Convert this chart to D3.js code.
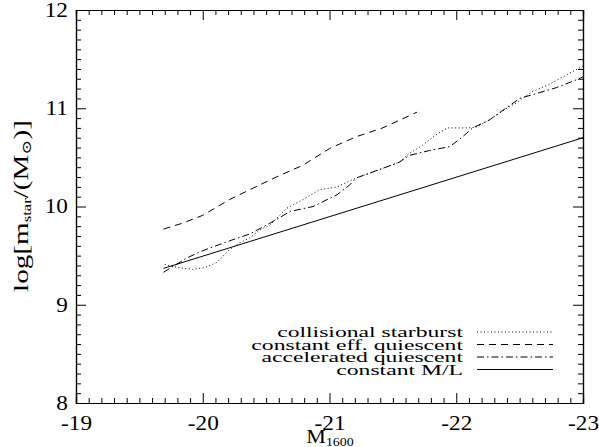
<!DOCTYPE html>
<html>
<head>
<meta charset="utf-8">
<script src="https://cdn.jsdelivr.net/npm/d3@7"></script>
<style>
  body { margin: 0; background: #fff; }
  svg { display: block; }
  text { font-family: "Liberation Serif", "DejaVu Serif", serif; fill: #000; }
</style>
</head>
<body>
<svg id="chart" width="599" height="447"></svg>
<script>
// axis ticks
const xMajor = [-19, -20, -21, -22, -23];
const yMajor = [8, 9, 10, 11, 12];

// collisional starburst (dotted)
const burstX = [-19.70, -19.80, -19.92, -20.02, -20.11, -20.21, -20.29, -20.37, -20.45, -20.53,
                -20.66, -20.79, -20.92, -21.06, -21.21, -21.32, -21.55, -21.63, -21.73, -21.84,
                -21.93, -22.10, -22.16, -22.26, -22.40, -22.48, -22.60, -22.73, -22.87, -23.00];
const burstY = [9.41, 9.38, 9.36, 9.38, 9.43, 9.56, 9.63, 9.68, 9.76, 9.81,
                9.98, 10.07, 10.17, 10.20, 10.29, 10.34, 10.45, 10.54, 10.62, 10.73,
                10.80, 10.80, 10.81, 10.88, 11.00, 11.06, 11.17, 11.24, 11.34, 11.43];

// constant efficiency quiescent (dashed)
const constEffX = [-19.69, -19.84, -20.00, -20.21, -20.37, -20.58, -20.79, -21.00, -21.21, -21.42, -21.69];
const constEffY = [9.77, 9.83, 9.91, 10.07, 10.17, 10.30, 10.42, 10.59, 10.71, 10.80, 10.96];

// accelerated quiescent (dash-dot)
const accelX = [-19.69, -19.88, -20.00, -20.21, -20.37, -20.53, -20.69, -20.87, -21.06, -21.16,
                -21.21, -21.55, -21.63, -21.79, -21.95, -22.05, -22.13, -22.26, -22.50, -22.66,
                -22.79, -22.95, -23.00];
const accelY = [9.33, 9.48, 9.55, 9.65, 9.72, 9.83, 9.95, 10.00, 10.12, 10.22,
                10.29, 10.45, 10.52, 10.57, 10.61, 10.71, 10.80, 10.88, 11.10, 11.16,
                11.21, 11.29, 11.32];

// constant M/L (solid)
const constMLX = [-19.69, -23.00];
const constMLY = [9.37, 10.70];

const legendLabels = ["collisional starburst", "constant eff. quiescent",
                      "accelerated quiescent", "constant M/L"];

const svg = d3.select("#chart");
const mLeft = 76, mRight = 583, mTop = 10, mBottom = 403;

const x = d3.scaleLinear().domain([-19, -23]).range([mLeft, mRight]);
const y = d3.scaleLinear().domain([8, 12]).range([mBottom, mTop]);

// minor ticks every 0.1
const xMinor = d3.range(1, 40).map(i => -19 - i / 10).filter((v, i) => (i + 1) % 10 !== 0);
const yMinor = d3.range(1, 40).map(i => 8 + i / 10).filter((v, i) => (i + 1) % 10 !== 0);

// the IDL font is wider than Times: stretch horizontally to a measured width
function stretchFor(text, size, width) {
  const t = svg.append("text").attr("font-size", size).text(text);
  const w = t.node().getComputedTextLength();
  t.remove();
  return width / w;
}
const sxTick = stretchFor("-19", 20, 31);
const sxLeg = stretchFor(legendLabels[0], 15, 186);

const fmt = d => String(d);

function styleAxis(g) {
  g.attr("font-family", null);
  g.select(".domain").attr("stroke", "#000").attr("stroke-width", 1.2);
  g.selectAll(".tick line").attr("stroke", "#000").attr("stroke-width", 1);
}

// bottom
svg.append("g").attr("transform", `translate(0,${mBottom})`)
  .call(d3.axisBottom(x).tickValues(xMinor).tickSize(-5).tickFormat(""))
  .call(styleAxis);
const xb = svg.append("g").attr("transform", `translate(0,${mBottom})`)
  .call(d3.axisBottom(x).tickValues(xMajor).tickSize(-10).tickPadding(13).tickFormat(fmt))
  .call(styleAxis);
xb.selectAll("text").attr("font-size", 20).attr("transform", `scale(${sxTick},1)`);

// top
svg.append("g").attr("transform", `translate(0,${mTop})`)
  .call(d3.axisTop(x).tickValues(xMinor).tickSize(-5).tickFormat(""))
  .call(styleAxis);
svg.append("g").attr("transform", `translate(0,${mTop})`)
  .call(d3.axisTop(x).tickValues(xMajor).tickSize(-10).tickFormat(""))
  .call(styleAxis);

// left
svg.append("g").attr("transform", `translate(${mLeft},0)`)
  .call(d3.axisLeft(y).tickValues(yMinor).tickSize(-5).tickFormat(""))
  .call(styleAxis);
const yl = svg.append("g").attr("transform", `translate(${mLeft},0)`)
  .call(d3.axisLeft(y).tickValues(yMajor).tickSize(-10).tickPadding(7).tickFormat(fmt))
  .call(styleAxis);
yl.selectAll("text").attr("font-size", 20).attr("transform", `scale(${sxTick},1)`);

// right
svg.append("g").attr("transform", `translate(${mRight},0)`)
  .call(d3.axisRight(y).tickValues(yMinor).tickSize(-5).tickFormat(""))
  .call(styleAxis);
svg.append("g").attr("transform", `translate(${mRight},0)`)
  .call(d3.axisRight(y).tickValues(yMajor).tickSize(-10).tickFormat(""))
  .call(styleAxis);

// axis titles
const xt = svg.append("text")
  .attr("transform", `translate(330,443) scale(${sxTick},1)`)
  .attr("text-anchor", "middle").attr("font-size", 19);
xt.append("tspan").text("M");
xt.append("tspan").attr("font-size", 12).attr("dy", 3).text("1600");

const yt = svg.append("text")
  .attr("text-anchor", "middle").attr("font-size", 21);
yt.append("tspan").text("log[m");
yt.append("tspan").attr("font-size", 12).attr("dy", 3).text("star");
yt.append("tspan").attr("dy", -3).text("/(M");
yt.append("tspan").attr("font-size", 13).attr("dy", 3).text("\u2299");
yt.append("tspan").attr("dy", -3).text(")]");
const sxY = 172 / yt.node().getComputedTextLength();
yt.attr("transform", `translate(28,206) rotate(-90) scale(${sxY},1)`);

// curves
const series = [
  {xs: burstX, ys: burstY, dash: "1,2.5"},
  {xs: constEffX, ys: constEffY, dash: "7,5"},
  {xs: accelX, ys: accelY, dash: "7,3,1.5,3"},
  {xs: constMLX, ys: constMLY, dash: null}
];

const line = d3.line().x(d => x(d[0])).y(d => y(d[1]));

const plot = svg.append("g");
series.forEach(s => {
  plot.append("path")
    .datum(s.xs.map((v, i) => [v, s.ys[i]]))
    .attr("d", line)
    .attr("fill", "none")
    .attr("stroke", "#000")
    .attr("stroke-width", 1)
    .attr("stroke-dasharray", s.dash);
});

// legend
const legend = svg.append("g");
legendLabels.forEach((lab, i) => {
  const ly = 332 + i * 12.5;
  legend.append("text")
    .attr("transform", `translate(463,${ly + 5}) scale(${sxLeg},1)`)
    .attr("text-anchor", "end")
    .attr("font-size", 15)
    .text(lab);
  legend.append("line")
    .attr("x1", 477).attr("x2", 553)
    .attr("y1", ly).attr("y2", ly)
    .attr("stroke", "#000").attr("stroke-width", 1)
    .attr("stroke-dasharray", series[i].dash);
});
</script>
</body>
</html>
